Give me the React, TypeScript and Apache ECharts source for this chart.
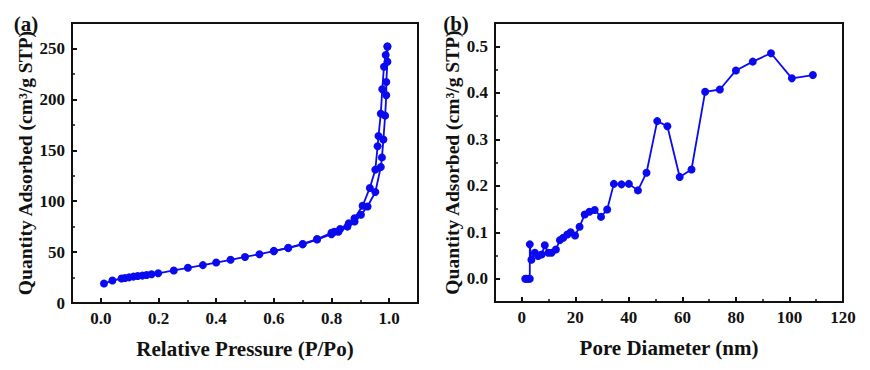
import React, { useEffect, useRef } from "react";
import * as echarts from "echarts";

// ---- Panel (a): N2 adsorption-desorption isotherm ----
const adsorption: number[][] = [
  [0.011, 19.1], [0.04, 22.1], [0.072, 24.0], [0.084, 24.6], [0.098, 25.2],
  [0.113, 25.9], [0.128, 26.5], [0.144, 26.9], [0.159, 27.5], [0.176, 28.2],
  [0.199, 29.2], [0.253, 32.0], [0.302, 34.6], [0.354, 37.2], [0.40, 39.7],
  [0.45, 42.4], [0.50, 45.2], [0.55, 47.9], [0.60, 50.9], [0.65, 53.9],
  [0.70, 57.6], [0.75, 62.3], [0.80, 67.5], [0.824, 70.0], [0.855, 75.0],
  [0.88, 80.0], [0.902, 86.6], [0.925, 94.8], [0.952, 109], [0.971, 133.6],
  [0.975, 143], [0.98, 160.6], [0.986, 184], [0.99, 204], [0.99, 217],
  [0.994, 237], [0.994, 252],
];
const desorption: number[][] = [
  [0.994, 252], [0.988, 243.5], [0.982, 232], [0.976, 210], [0.971, 186],
  [0.963, 164], [0.96, 154], [0.952, 131], [0.933, 113], [0.908, 95.5],
  [0.88, 83.3], [0.86, 78.4], [0.83, 72.7], [0.81, 70.0], [0.80, 69.0],
  [0.75, 62.8], [0.70, 58.0], [0.65, 54.2], [0.60, 51.2],
];
const aXMajor = [0, 0.2, 0.4, 0.6, 0.8, 1.0];
const aXMinor = [0.1, 0.3, 0.5, 0.7, 0.9];
const aYMajor = [0, 50, 100, 150, 200, 250];
const aYMinor = [25, 75, 125, 175, 225];

// ---- Panel (b): pore size distribution ----
const poreDist: number[][] = [
  [1.3, 0], [1.75, 0], [2.5, 0], [3.0, 0], [3.0, 0.074], [3.6, 0.041],
  [4.9, 0.056], [6.1, 0.049], [7.4, 0.052], [8.6, 0.072], [9.9, 0.056],
  [11.1, 0.056], [12.75, 0.063], [14.25, 0.083], [15.5, 0.088], [17.0, 0.095],
  [18.25, 0.1], [19.9, 0.093], [21.6, 0.112], [23.5, 0.138], [25.25, 0.144],
  [27.25, 0.148], [29.6, 0.133], [31.9, 0.149], [34.4, 0.204], [37.25, 0.203],
  [40.0, 0.204], [43.4, 0.19], [46.6, 0.228], [50.6, 0.339], [54.4, 0.328],
  [59.0, 0.219], [63.4, 0.235], [68.5, 0.402], [74.0, 0.407], [80.0, 0.448],
  [86.3, 0.467], [93.1, 0.485], [100.9, 0.431], [108.75, 0.438],
];
const bXMajor = [0, 20, 40, 60, 80, 100, 120];
const bXMinor = [10, 30, 50, 70, 90, 110];
const bYMajor = [0, 0.1, 0.2, 0.3, 0.4, 0.5];
const bYMinor = [0.05, 0.15, 0.25, 0.35, 0.45];

const FONT = "Liberation Serif";
const BLUE = "#0a0af0";
const INK = "#111";

function mainAxis(
  kind: "x" | "y",
  grid: number,
  min: number,
  max: number,
  major: number[],
  name: string,
  nameGap: number,
  nameSize: number,
  fmt: (v: number) => string
) {
  return {
    type: "value",
    gridIndex: grid,
    position: kind === "x" ? "bottom" : "left",
    min,
    max,
    name,
    nameLocation: "middle",
    nameGap,
    nameTextStyle: { fontFamily: FONT, fontWeight: "bold", fontSize: nameSize, color: INK },
    axisLine: { show: true, onZero: false, lineStyle: { color: INK, width: 2 } },
    axisTick: { show: true, inside: true, length: 5, customValues: major, lineStyle: { color: INK, width: 2 } },
    axisLabel: {
      show: true,
      customValues: major,
      margin: 7,
      fontFamily: FONT,
      fontWeight: "bold",
      fontSize: 17,
      color: INK,
      formatter: (v: number) => fmt(v),
    },
    splitLine: { show: false },
  };
}

function minorAxis(kind: "x" | "y", grid: number, min: number, max: number, minor: number[]) {
  return {
    type: "value",
    gridIndex: grid,
    position: kind === "x" ? "bottom" : "left",
    min,
    max,
    axisLine: { show: false, onZero: false },
    axisTick: { show: true, inside: true, length: 3, customValues: minor, lineStyle: { color: INK, width: 1.5 } },
    axisLabel: { show: false },
    splitLine: { show: false },
  };
}

const lineSeries = (data: number[][], xi: number, yi: number) => ({
  type: "line",
  xAxisIndex: xi,
  yAxisIndex: yi,
  data,
  symbol: "circle",
  symbolSize: 8,
  itemStyle: { color: BLUE },
  lineStyle: { color: BLUE, width: 1.8 },
  silent: true,
});

export default function App() {
  const ref = useRef<HTMLDivElement>(null);
  useEffect(() => {
    if (!ref.current) return;
    const chart = echarts.init(ref.current, undefined, { renderer: "svg" });
    chart.setOption({
      animation: false,
      backgroundColor: "#fff",
      grid: [
        { left: 72, right: 452, top: 23, bottom: 67, show: true, borderColor: INK, borderWidth: 2, backgroundColor: "transparent" },
        { left: 495, right: 27, top: 23, bottom: 68, show: true, borderColor: INK, borderWidth: 2, backgroundColor: "transparent" },
      ],
      xAxis: [
        mainAxis("x", 0, -0.1, 1.1, aXMajor, "Relative Pressure (P/Po)", 35, 21, (v) => v.toFixed(1)),
        minorAxis("x", 0, -0.1, 1.1, aXMinor),
        mainAxis("x", 1, -10, 120, bXMajor, "Pore Diameter (nm)", 35, 21, (v) => String(Math.round(v))),
        minorAxis("x", 1, -10, 120, bXMinor),
      ],
      yAxis: [
        mainAxis("y", 0, 0, 275, aYMajor, "Quantity Adsorbed (cm³/g STP)", 34, 19.5, (v) => String(Math.round(v))),
        minorAxis("y", 0, 0, 275, aYMinor),
        mainAxis("y", 1, -0.05, 0.55, bYMajor, "Quantity Adsorbed (cm³/g STP)", 28, 19.5, (v) => v.toFixed(1)),
        minorAxis("y", 1, -0.05, 0.55, bYMinor),
      ],
      series: [
        lineSeries(adsorption, 0, 0),
        lineSeries(desorption, 0, 0),
        lineSeries(poreDist, 2, 2),
      ],
      graphic: [
        { type: "text", x: 26, y: 24, style: { text: "(a)", font: `bold 21px "${FONT}"`, fill: INK, align: "center", verticalAlign: "middle" } },
        { type: "text", x: 456, y: 24, style: { text: "(b)", font: `bold 21px "${FONT}"`, fill: INK, align: "center", verticalAlign: "middle" } },
      ],
    });
    return () => chart.dispose();
  }, []);
  return (
    <div
      ref={ref}
      style={{ position: "absolute", left: 0, top: 0, width: 870, height: 370 }}
    />
  );
}
